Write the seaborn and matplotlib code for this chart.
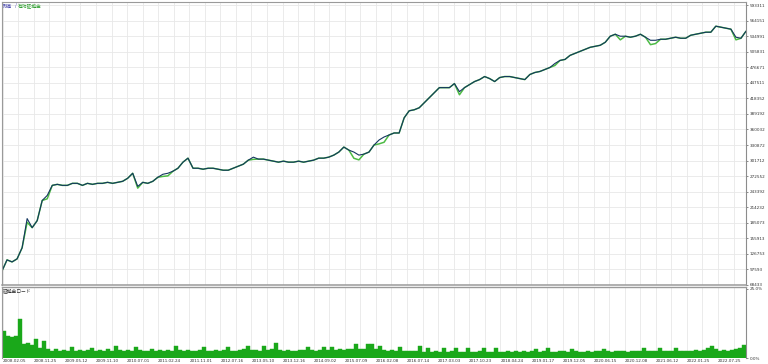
import numpy as np
import pandas as pd
import matplotlib
matplotlib.use("Agg")
import matplotlib.pyplot as plt
import seaborn as sns

# ---------------- data ----------------
balance = [
    94700, 115500, 111700, 117400, 138200, 192900, 175900, 189100, 226900, 236300,
    255200, 257100, 255200, 255200, 259000, 259000, 255200, 259000, 257100, 259000,
    259000, 260900, 259000, 260900, 262800, 268500, 277900, 253300, 260900, 259000,
    262800, 270400, 276000, 277900, 281700, 287300, 298700, 306200, 287300, 287300,
    285500, 287300, 287300, 285500, 283600, 283600, 287300, 291100, 294900, 302500,
    308100, 304400, 304400, 302500, 300600, 298700, 300600, 298700, 298700, 300600,
    298700, 300600, 302500, 306200, 306200, 308100, 311900, 317600, 327000, 321300,
    317600, 311900, 313800, 317600, 330800, 340200, 345900, 349700, 353400, 353400,
    381800, 395000, 396900, 400700, 410100, 419500, 429000, 438400, 438400, 438400,
    446000, 430900, 438400, 444100, 449800, 453500, 459200, 455400, 449800, 457300,
    459200, 459200, 457300, 455400, 453500, 463000, 466800, 468700, 472400, 476200,
    483800, 489400, 491300, 498900, 502700, 506400, 510200, 514000, 515900, 517800,
    523400, 534800, 538500, 534800, 534800, 532900, 534800, 538500, 532900, 527200,
    527200, 529100, 529100, 531000, 532900, 531000, 531000, 536600, 538500, 540400,
    542300, 542300, 553600, 551800, 549900, 548000, 532900, 531000, 544200,
]
equity = [
    94700, 115500, 111700, 117400, 138200, 186000, 175900, 189100, 226900, 230000,
    255200, 257100, 255200, 255200, 259000, 259000, 255200, 259000, 257100, 259000,
    259000, 260900, 259000, 260900, 262800, 268500, 277900, 250000, 260900, 259000,
    262800, 270400, 272000, 273000, 281700, 287300, 298700, 306200, 287300, 287300,
    285500, 287300, 287300, 285500, 283600, 283600, 287300, 291100, 294900, 302500,
    304000, 304400, 304400, 302500, 300600, 298700, 300600, 298700, 298700, 300600,
    298700, 300600, 302500, 306200, 306200, 308100, 311900, 317600, 327000, 321300,
    306000, 303000, 313800, 317600, 330800, 333000, 336000, 349700, 353400, 353400,
    381800, 395000, 396900, 400700, 410100, 419500, 429000, 438400, 438400, 438400,
    446000, 425000, 438400, 444100, 449800, 453500, 459200, 455400, 449800, 457300,
    459200, 459200, 457300, 455400, 453500, 463000, 466800, 468700, 472400, 476200,
    480000, 489400, 491300, 498900, 502700, 506400, 510200, 514000, 515900, 517800,
    523400, 534800, 538500, 528000, 534800, 532900, 534800, 538500, 532900, 519000,
    521000, 529100, 529100, 531000, 532900, 531000, 531000, 536600, 538500, 540400,
    542300, 542300, 553600, 551800, 549900, 548000, 528000, 531000, 544200,
]
margin_load = [
    9.6, 8.0, 7.6, 7.8, 14.0, 5.0, 5.4, 4.6, 7.0, 3.5,
    6.2, 3.1, 2.7, 3.3, 2.5, 2.9, 2.6, 3.9, 2.7, 3.0,
    2.5, 2.8, 3.7, 2.6, 2.9, 2.5, 3.1, 2.7, 4.5, 3.0,
    2.6, 2.8, 2.5, 3.9, 2.9, 2.6, 2.7, 3.1, 2.5, 2.8,
    2.6, 2.9, 2.7, 4.3, 2.8, 2.5, 3.0, 2.7, 2.5, 2.9,
    3.9, 2.7, 2.5, 2.8, 2.6, 2.9, 3.9, 2.7, 2.5, 2.8,
    3.1, 4.4, 2.8, 3.0, 2.7, 4.5, 2.9, 3.1, 5.6, 3.0,
    2.7, 2.8, 2.5, 2.7, 3.0, 2.8, 4.1, 2.9, 2.6, 2.8,
    4.1, 3.0, 4.1, 2.9, 3.1, 3.0, 3.3, 3.4, 5.2, 3.3,
    3.1, 5.0, 5.2, 3.1, 4.5, 3.0, 2.7, 2.9, 2.6, 3.9,
    2.7, 2.5, 2.6, 2.5, 4.2, 2.3, 3.7, 2.2, 2.4, 2.3,
    3.5, 2.2, 2.4, 3.5, 2.3, 2.2, 3.6, 2.3, 2.2, 2.4,
    3.5, 2.3, 2.2, 3.5, 2.3, 2.2, 2.4, 2.3, 2.5, 2.2,
    2.4, 2.3, 2.5, 3.2, 2.3, 2.4, 3.5, 2.3, 2.2, 2.4,
    2.5, 2.3, 3.2, 2.4, 2.2, 2.3, 2.5, 2.3, 2.4, 2.5,
    3.2, 2.4, 2.3, 2.5, 2.4, 2.6, 2.3, 2.5, 2.7, 2.5,
    3.6, 2.6, 2.4, 2.5, 3.5, 2.5, 2.7, 2.6, 3.5, 2.5,
    2.4, 2.6, 2.5, 2.8, 2.6, 2.9, 3.8, 4.5, 3.1, 2.7,
    2.9, 2.6, 3.0, 3.4, 3.8, 4.8,
]
y_tick_labels = [593311, 564151, 534991, 505831, 476671, 447511, 418352, 389192,
                 360032, 330872, 301712, 272552, 243392, 214232, 185073, 155913,
                 126753, 97593, 68433]
x_tick_labels = ["2008.02.05", "2008.11.25", "2009.05.12", "2009.11.10", "2010.07.01",
                 "2011.02.24", "2011.11.01", "2012.07.16", "2013.05.10", "2013.12.16",
                 "2014.09.02", "2015.07.09", "2016.02.08", "2016.07.14", "2017.03.03",
                 "2017.10.23", "2018.04.24", "2019.01.17", "2019.12.05", "2020.06.15",
                 "2020.12.08", "2021.06.12", "2022.01.25", "2022.07.25"]
pct_labels = ["0.0%", "25.0%"]
pct_values = [0, 25]

# ---------------- style ----------------
sns.set_theme(style="white")
plt.rcParams['font.family'] = ['DejaVu Sans', 'Noto Sans CJK JP']

BAL = "#14365f"
EQ = "#4dbb45"
BAR = "#1aa81a"
GRID = "#e8e8e8"
SPINE = "#9a9a9a"
TXT = "#333333"
FS = 3.0

W, H = 768, 364
fig = plt.figure(figsize=(W / 100, H / 100), dpi=100)
fig.patch.set_facecolor("white")
ax = fig.add_axes([2 / W, 1 - 285 / H, 744 / W, 283 / H])
ax2 = fig.add_axes([2 / W, 1 - 358 / H, 744 / W, 71 / H])

df = pd.DataFrame({"idx": np.arange(len(balance)), "balance": balance, "equity": equity})
sns.lineplot(data=df, x="idx", y="equity", ax=ax, color=EQ, linewidth=1.1,
             estimator=None, sort=False)
sns.lineplot(data=df, x="idx", y="balance", ax=ax, color=BAL, linewidth=0.8,
             estimator=None, sort=False)

dm = pd.DataFrame({"j": np.arange(len(margin_load)), "m": margin_load})
sns.barplot(data=dm, x="j", y="m", ax=ax2, native_scale=True, width=0.85,
            color=BAR, saturation=1, errorbar=None, linewidth=0.3, edgecolor=BAR)

# ---------------- axes ----------------
n = len(balance)
m = len(margin_load)
ax.set_xlim(0, n - 1)
ax.set_ylim(68433, 598935)
ax2.set_xlim(-0.5, m - 0.5)
ax2.set_ylim(0, 25.7)

grid_px = 15.55
major_frac = [(0.7 + 2 * grid_px * k) / 744 for k in range(len(x_tick_labels))]
minor_frac = [(0.7 + grid_px * (2 * k + 1)) / 744 for k in range(len(x_tick_labels))]

for a, (lo, hi) in ((ax, (0, n - 1)), (ax2, (-0.5, m - 0.5))):
    a.set_xticks([lo + f * (hi - lo) for f in major_frac])
    a.set_xticks([lo + f * (hi - lo) for f in minor_frac], minor=True)
    a.grid(True, which="both", axis="x", color=GRID, linewidth=0.6)
    a.set_axisbelow(True)
    a.set_xlabel("")
    a.set_ylabel("")
    a.yaxis.tick_right()
    a.tick_params(axis="y", labelsize=FS, pad=1.2, length=1.5, width=0.4,
                  colors=TXT, labelcolor=TXT, direction="out")
    a.tick_params(axis="x", which="both", length=0)
    for s in a.spines.values():
        s.set_color(SPINE)
        s.set_linewidth(0.8)

ax.set_yticks(y_tick_labels)
ax.set_yticklabels([str(v) for v in y_tick_labels])
ax.grid(True, axis="y", color=GRID, linewidth=0.6)
ax.set_xticklabels([])
ax.spines["bottom"].set_linewidth(1.1)
ax.spines["right"].set_color("#8c8c8c")

ax2.set_yticks(pct_values)
ax2.set_yticklabels(pct_labels)
ax2.grid(False, axis="y")
ax2.spines["bottom"].set_visible(False)
ax2.spines["top"].set_linewidth(1.0)
ax2.spines["right"].set_color("#8c8c8c")
ax2.set_xticklabels(x_tick_labels, fontsize=FS, color=TXT, ha="left")
ax2.tick_params(axis="x", pad=0.6)

# ---------------- titles ----------------
jp = ['Noto Sans CJK JP', 'DejaVu Sans']
fig.canvas.draw()
r = fig.canvas.get_renderer()
t1 = fig.text(3 / W, 1 - 6 / H, "残高", fontsize=3.4, color="#3a3aa8",
              family=jp, va="center", ha="left")
bb = t1.get_window_extent(r)
t2 = fig.text(bb.x1 / W + 1 / W, 1 - 6 / H, " / ", fontsize=3.4, color="#3a3aa8",
              family=jp, va="center", ha="left")
bb = t2.get_window_extent(r)
fig.text(bb.x1 / W, 1 - 6 / H, "有効証拠金", fontsize=3.4, color="#2f9e2f",
         family=jp, va="center", ha="left")
fig.text(3 / W, 1 - 291 / H, "証拠金ロード", fontsize=3.4, color=TXT,
         family=jp, va="center", ha="left")

fig.savefig("out.png", dpi=100, facecolor="white")
